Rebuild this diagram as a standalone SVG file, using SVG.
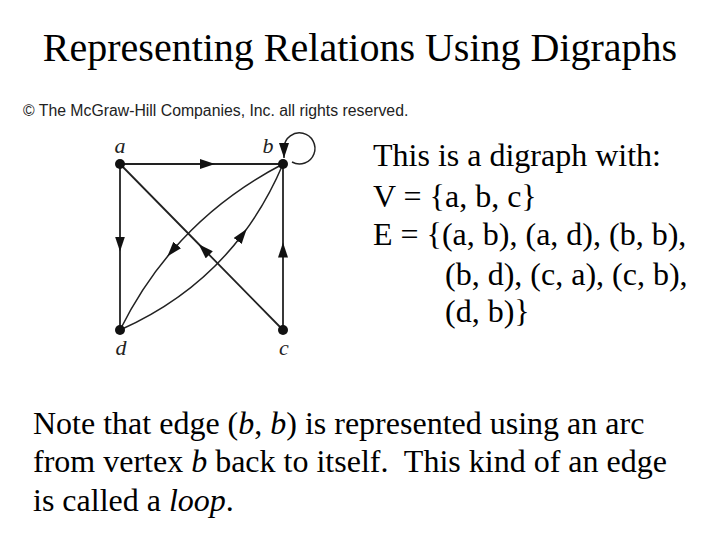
<svg xmlns="http://www.w3.org/2000/svg" width="720" height="540" viewBox="0 0 720 540">
  <style>
    .serif { font-family: "Liberation Serif", "Times New Roman", serif; fill: #000; }
    .title { font-size: 40px; }
    .body { font-size: 32px; }
    .copy { font-family: "Liberation Sans", Arial, sans-serif; font-size: 15.8px; fill: #222; }
    .lbl { font-family: "Liberation Serif", "Times New Roman", serif; font-style: italic; font-size: 22px; fill: #222; }
    .edge { fill: none; stroke: #222; stroke-width: 1.8; }
    .curve { fill: none; stroke: #222; stroke-width: 1.5; }
    .dot { fill: #111; }
  </style>
  <defs>
    <marker id="mid" markerUnits="userSpaceOnUse" markerWidth="17" markerHeight="12" refX="7.5" refY="5" orient="auto">
      <path d="M0,0 L15,5 L0,10 z" fill="#111"/>
    </marker>
    <marker id="tip" markerUnits="userSpaceOnUse" markerWidth="17" markerHeight="12" refX="15" refY="5" orient="auto">
      <path d="M0,0 L15,5 L0,10 z" fill="#111"/>
    </marker>
  </defs>
  <rect width="720" height="540" fill="#fff"/>

  <text class="serif title" x="360" y="61" text-anchor="middle">Representing Relations Using Digraphs</text>
  <text class="copy" x="23" y="116">© The McGraw-Hill Companies, Inc. all rights reserved.</text>

  <g id="connectors">
    <path class="edge" d="M120,164 L207.5,164 L283,164" marker-mid="url(#mid)"/>
    <path class="edge" d="M120,164 L120,244 L120,330" marker-mid="url(#mid)"/>
    <path class="edge" d="M283,330 L283,250 L283,164" marker-mid="url(#mid)"/>
    <path class="edge" d="M283,330 L204,249.5 L120,164" marker-mid="url(#mid)"/>
    <path class="curve" d="M283,164 Q217.96,197.66 172.29,250.69 Q141.84,286.04 120,330" marker-mid="url(#mid)"/>
    <path class="curve" d="M120,330 Q195.24,296.67 242.17,235.03 Q266.34,203.27 283,164" marker-mid="url(#mid)"/>
    <path class="curve" d="M292,162 A15.5,15.5 0 1 0 284,147 L284,158" marker-end="url(#tip)"/>
  </g>

  <g id="node-a">
    <circle class="dot" cx="120" cy="164" r="5"/>
    <text class="lbl" x="120" y="153" text-anchor="middle">a</text>
  </g>
  <g id="node-b">
    <circle class="dot" cx="283" cy="164" r="5"/>
    <text class="lbl" x="268" y="153" text-anchor="middle">b</text>
  </g>
  <g id="node-c">
    <circle class="dot" cx="283" cy="330" r="5"/>
    <text class="lbl" x="284" y="355" text-anchor="middle">c</text>
  </g>
  <g id="node-d">
    <circle class="dot" cx="120" cy="330" r="5"/>
    <text class="lbl" x="121" y="355" text-anchor="middle">d</text>
  </g>

  <g id="description" class="serif body">
    <text x="373" y="166">This is a digraph with:</text>
    <text x="373" y="207">V = {a, b, c}</text>
    <text x="373" y="245">E = {(a, b), (a, d), (b, b),</text>
    <text x="445" y="285">(b, d), (c, a), (c, b),</text>
    <text x="445" y="322">(d, b)}</text>
  </g>

  <g id="note" class="serif body">
    <text x="33" y="434">Note that edge (<tspan font-style="italic">b</tspan>, <tspan font-style="italic">b</tspan>) is represented using an arc</text>
    <text x="33" y="472">from vertex <tspan font-style="italic">b</tspan> back to itself.&#160; This kind of an edge</text>
    <text x="33" y="511">is called a <tspan font-style="italic">loop</tspan>.</text>
  </g>
</svg>
